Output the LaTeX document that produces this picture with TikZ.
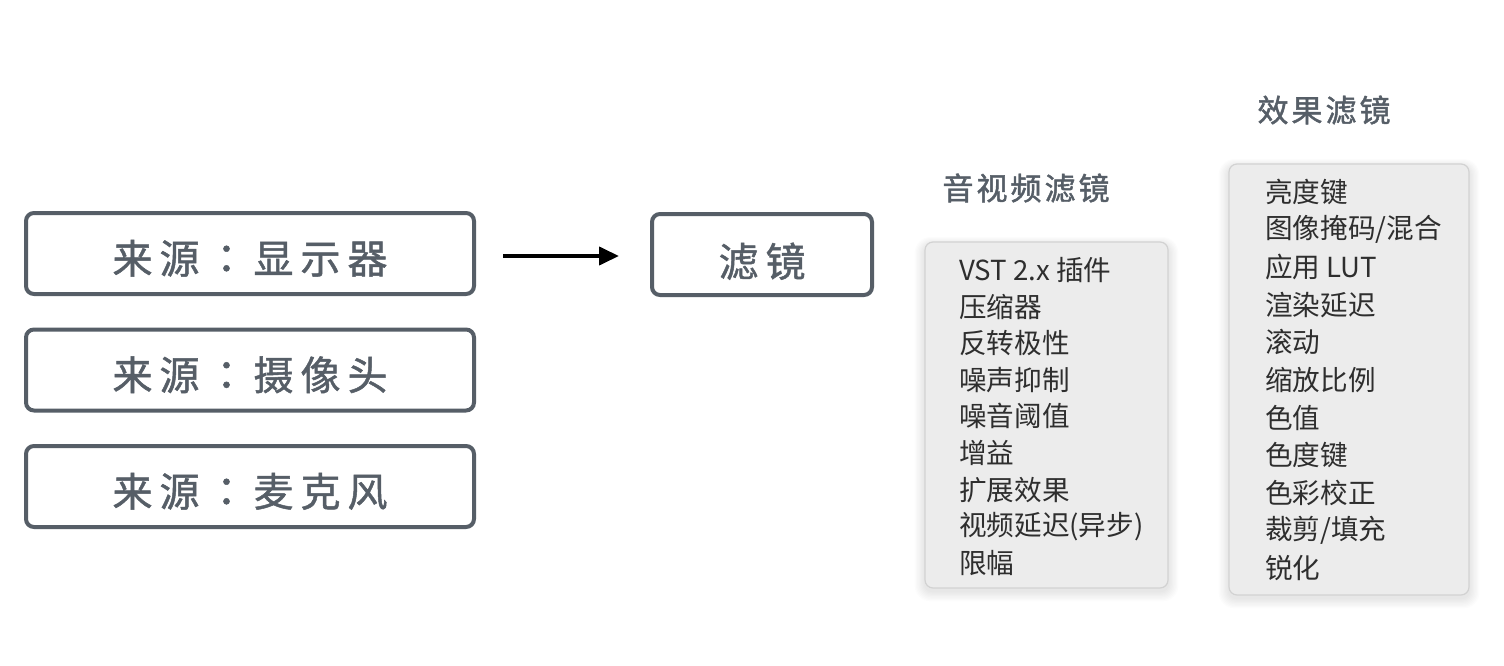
\documentclass[tikz,border=0pt]{standalone}
\usepackage{fontspec}
\setmainfont{Noto Sans CJK SC}
\newfontfamily\cjk{Noto Sans CJK SC}
\newfontfamily\cjkbold{Noto Sans CJK SC}[FakeBold=1.2]
\newfontfamily\cjktcbold{Noto Sans CJK TC}[FakeBold=1.2]
\newfontfamily\cjktitle{Noto Sans CJK SC}[FakeBold=1.5]
\usetikzlibrary{arrows.meta}
\definecolor{boxgray}{HTML}{565E67}
\definecolor{menufill}{HTML}{ECECEC}
\definecolor{menuline}{HTML}{D2D2D2}
\definecolor{itemcol}{HTML}{2E2E2E}
\newcommand\gp{\kern7pt}
\newcommand\tcolon{{\cjktcbold ：}}
\tikzset{
  srcbox/.style={draw=boxgray, line width=4pt, rounded corners=8pt, minimum width=448pt, minimum height=81pt, text=boxgray, font=\cjkbold\fontsize{40}{42}\selectfont, inner sep=0pt, text height=40pt, text depth=0pt},
  menubox/.style={draw=menuline, line width=1.2pt, fill=menufill, rounded corners=8pt, inner sep=0pt},
  menutitle/.style={text=boxgray, font=\cjktitle\fontsize{31}{34}\selectfont, inner sep=0pt},
  menuitem/.style={text=itemcol, font=\cjk\fontsize{27.6}{29}\selectfont, anchor=west, inner sep=0pt},
  flowarrow/.style={line width=4pt, -{Triangle[length=20pt,width=18pt]}}
}
\begin{document}
\begin{tikzpicture}[x=1pt,y=-1pt]
\useasboundingbox[fill=white] (0,0) rectangle (1504,666);
% source boxes
\node[srcbox] (s1) at (250,253.5) {来\gp 源\gp\tcolon\gp 显\gp 示\gp 器};
\node[srcbox] (s2) at (250,370) {来\gp 源\gp\tcolon\gp 摄\gp 像\gp 头};
\node[srcbox] (s3) at (250,486.5) {来\gp 源\gp\tcolon\gp 麦\gp 克\gp 风};
\node[srcbox, minimum width=220pt, text height=44pt, text depth=0pt] (f) at (762,254.5) {滤\gp 镜};
\coordinate (a1) at (503,256);
\coordinate (a2) at (619,256);
\draw[flowarrow] (a1) -- (a2);
% shadows
\foreach \k in {1,...,8}{
  \fill[black, opacity=0.012, rounded corners=8pt+\k pt] (925-\k*1.3,242-\k*1.0+3) rectangle (1168+\k*1.3,588+\k*1.3+3);
  \fill[black, opacity=0.012, rounded corners=8pt+\k pt] (1229-\k*1.3,164-\k*1.0+3) rectangle (1469+\k*1.3,595+\k*1.3+3);
}
% menus
\node[menubox, minimum width=243pt, minimum height=346pt] (m1) at (1046.5,415) {};
\node[menubox, minimum width=240pt, minimum height=431pt] (m2) at (1349,379.5) {};
\node[menutitle] (t1) at (1026,188) {音\kern3pt 视\kern3pt 频\kern3pt 滤\kern3pt 镜};
\node[menutitle] (t2) at (1324,110) {效\kern3pt 果\kern3pt 滤\kern3pt 镜};
\foreach \t [count=\i from 0] in {VST 2.x 插件,压缩器,反转极性,噪声抑制,噪音阈值,增益,扩展效果,视频延迟(异步),限幅}{
  \node[menuitem] (ia\i) at (959,270+36.6*\i) {\t};
}
\foreach \t [count=\i from 0] in {亮度键,图像掩码/混合,应用 LUT,渲染延迟,滚动,缩放比例,色值,色度键,色彩校正,裁剪/填充,锐化}{
  \node[menuitem] (ib\i) at (1265,192+37.6*\i) {\t};
}
\end{tikzpicture}
\end{document}
